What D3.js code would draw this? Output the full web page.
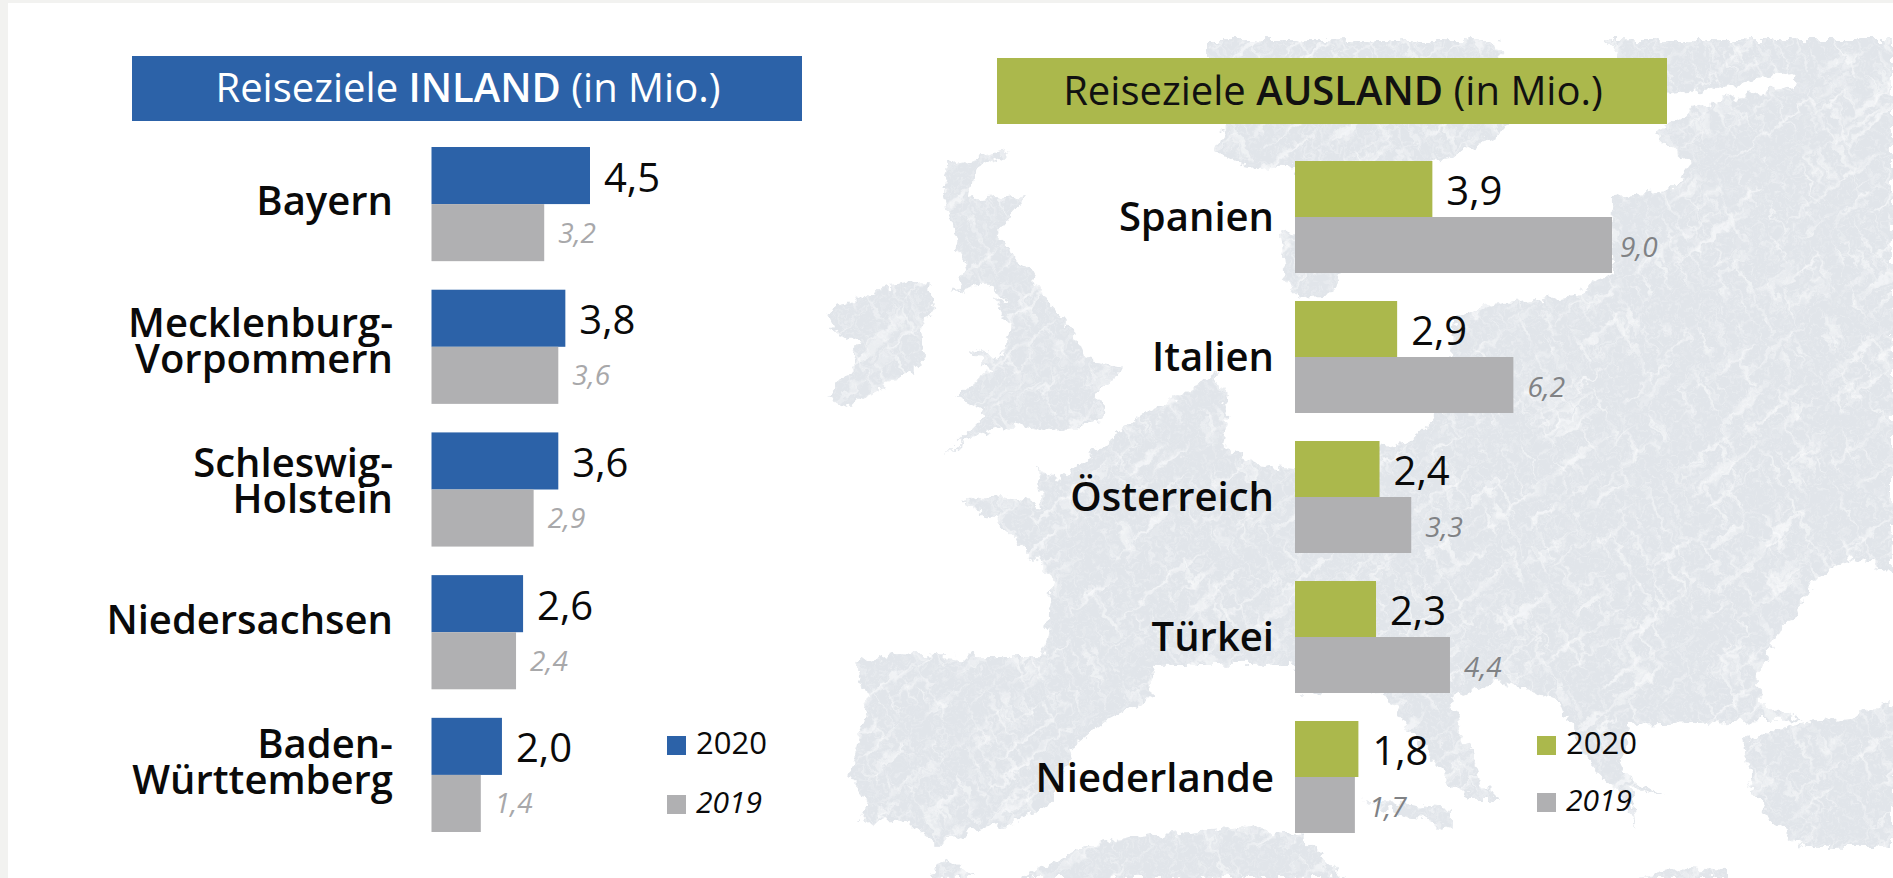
<!DOCTYPE html>
<html lang="de">
<head>
<meta charset="utf-8">
<title>Reiseziele Inland und Ausland</title>
<script src="https://d3js.org/d3.v7.min.js"></script>
<style>
html,body{margin:0;padding:0;background:#f2f2f0;overflow:hidden}
svg{display:block}
text{font-family:"Open Sans",sans-serif;font-kerning:normal}
</style>
</head>
<body>
<svg id="chart" width="1893" height="878"></svg>
<script>
// ---------- data ----------
const years = ["2020", "2019"];
const inlandCategories = ["Bayern", "Mecklenburg-\nVorpommern", "Schleswig-\nHolstein", "Niedersachsen", "Baden-\nWürttemberg"];
const inland2020 = [4.5, 3.8, 3.6, 2.6, 2.0];
const inland2019 = [3.2, 3.6, 2.9, 2.4, 1.4];
const auslandCategories = ["Spanien", "Italien", "Österreich", "Türkei", "Niederlande"];
const ausland2020 = [3.9, 2.9, 2.4, 2.3, 1.8];
const ausland2019 = [9.0, 6.2, 3.3, 4.4, 1.7];

// ---------- decorative map outline (page pixels) ----------
const mapLand = [
  [[827,313],[877,290],[923,283],[938,303],[920,330],[925,363],[883,387],[847,405],[828,397],[850,370],[857,343],[837,337]],
  [[950,163],[1010,150],[973,173],[970,200],[1030,193],[997,233],[1013,257],[1033,273],[1050,303],[1073,330],[1087,360],[1123,367],[1097,393],[1107,420],[1050,430],[1017,423],[960,443],[943,458],[987,413],[957,397],[990,370],[970,348],[1000,357],[1010,323],[993,300],[1007,297],[983,283],[953,293],[967,270],[953,230],[943,193]],
  [[1207,40],[1497,40],[1510,128],[1450,160],[1400,165],[1340,165],[1310,200],[1295,165],[1250,170],[1217,150],[1230,110],[1207,60]],
  [[1280,233],[1300,230],[1340,270],[1333,295],[1300,298],[1285,280]],
  [[960,500],[1000,495],[1040,505],[1037,470],[1060,478],[1105,445],[1127,427],[1150,410],[1180,397],[1217,373],[1228,410],[1222,447],[1260,465],[1300,470],[1410,440],[1450,405],[1452,322],[1483,307],[1573,295],[1612,273],[1613,195],[1672,190],[1690,165],[1655,135],[1665,125],[1700,105],[1800,85],[1793,72],[1690,92],[1660,95],[1620,58],[1607,40],[1893,40],[1893,573],[1850,557],[1817,577],[1783,627],[1757,673],[1760,703],[1803,720],[1733,722],[1627,725],[1622,770],[1663,800],[1630,785],[1637,827],[1620,795],[1593,767],[1575,740],[1560,700],[1500,680],[1450,700],[1480,780],[1500,800],[1470,800],[1440,770],[1410,730],[1380,690],[1300,693],[1290,665],[1150,665],[1153,697],[1103,723],[1073,747],[1053,800],[1023,820],[977,830],[937,845],[907,820],[860,823],[867,800],[850,777],[867,707],[857,663],[897,653],[977,657],[1043,657],[1050,613],[1053,580],[1027,550],[997,523]],
  [[1365,800],[1450,808],[1450,827],[1400,815]],
  [[1893,700],[1850,717],[1800,723],[1743,740],[1750,783],[1770,820],[1803,847],[1893,847]],
  [[1020,878],[1090,845],[1160,835],[1240,827],[1300,835],[1345,878]],
  [[930,878],[945,855],[975,878]],
  [[1635,878],[1680,868],[1725,872],[1725,878]]
];

// ---------- palette ----------
const colBlue = "#2c62a8", colGreen = "#abb84c", colGrey = "#b0b0b2";

const svg = d3.select("#chart");
const defs = svg.append("defs");
const line = d3.line().curve(d3.curveLinearClosed);

// rough, scratchy coast
const rough = defs.append("filter").attr("id","rough").attr("filterUnits","userSpaceOnUse")
  .attr("x",0).attr("y",0).attr("width",1893).attr("height",878);
rough.append("feTurbulence").attr("type","fractalNoise").attr("baseFrequency","0.09 0.09")
  .attr("numOctaves",3).attr("seed",4).attr("result","n");
rough.append("feDisplacementMap").attr("in","SourceGraphic").attr("in2","n")
  .attr("scale",16).attr("xChannelSelector","R").attr("yChannelSelector","G");
rough.append("feGaussianBlur").attr("stdDeviation",0.7);

// white streak layers
function streakFilter(id, freq, seed, slope, cut, maxA){
  const fl = defs.append("filter").attr("id",id).attr("filterUnits","userSpaceOnUse")
    .attr("x",-1000).attr("y",-1000).attr("width",4000).attr("height",4000);
  fl.append("feTurbulence").attr("type","fractalNoise").attr("baseFrequency",freq)
    .attr("numOctaves",3).attr("seed",seed);
  fl.append("feColorMatrix").attr("type","matrix")
    .attr("values",`0 0 0 0 1  0 0 0 0 1  0 0 0 0 1  ${slope} 0 0 0 ${cut}`);
  fl.append("feComponentTransfer").append("feFuncA").attr("type","linear").attr("slope",maxA);
}
streakFilter("st1","0.012 0.11",11,5,-2.9,0.55);
streakFilter("st2","0.02 0.16",23,5,-2.9,0.45);
streakFilter("st3","0.25 0.25",7,3,-1.5,0.3);

defs.append("clipPath").attr("id","landClip").selectAll("path").data(mapLand).join("path").attr("d",d=>line(d));

// page sheet
svg.append("rect").attr("x",8).attr("y",3).attr("width",1885).attr("height",875).attr("fill","#fff");

// map
const mapOuter = svg.append("g").attr("filter","url(#rough)");
const mapClip = mapOuter.append("g").attr("clip-path","url(#landClip)");
mapClip.append("rect").attr("x",800).attr("y",30).attr("width",1093).attr("height",848).attr("fill","#e1e5ea");
const layerSpec = [["st1",-38],["st2",62],["st3",0]];
layerSpec.forEach(([id,ang])=>{
  mapClip.append("rect").attr("x",-500).attr("y",-500).attr("width",3400).attr("height",2400)
    .attr("transform",`rotate(${ang} 1350 450)`).attr("filter",`url(#${id})`).attr("fill","#fff");
});

// ---------- shared scale ----------
const x = d3.scaleLinear().domain([0, 9]).range([0, 317]);

function panel(cfg){
  const rows = cfg.cats.map((c,i)=>({cat:c, v2020:cfg.a[i], v2019:cfg.b[i], i}));
  const y = d3.scaleBand().domain(rows.map(r=>r.i)).range(cfg.yRange).paddingInner(cfg.pad).paddingOuter(0);
  const yInner = d3.scaleBand().domain(years).range([0,y.bandwidth()]);
  const fmt = v => d3.format(".1f")(v).replace(".",",");

  // header
  const g = svg.append("g");
  g.append("rect").attr("x",cfg.hx).attr("y",cfg.hy).attr("width",cfg.hw).attr("height",cfg.hh).attr("fill",cfg.color);
  const ht = g.append("text").attr("x",cfg.hx+cfg.hw/2+cfg.htdx).attr("y",cfg.hbase).attr("text-anchor","middle")
    .attr("font-size",cfg.hsize).attr("fill",cfg.hcolor);
  ht.append("tspan").text("Reiseziele ");
  ht.append("tspan").attr("font-weight",600).text(cfg.hword);
  ht.append("tspan").text(" (in Mio.)");

  const rowG = g.selectAll("g.row").data(rows).join("g").attr("class","row")
    .attr("transform",r=>`translate(${cfg.x0},${y(r.i)})`);

  rowG.append("rect").attr("x",0).attr("y",yInner("2020")).attr("height",yInner.bandwidth())
    .attr("width",r=>x(r.v2020)).attr("fill",cfg.color);
  rowG.append("rect").attr("x",0).attr("y",yInner("2019")).attr("height",yInner.bandwidth())
    .attr("width",r=>x(r.v2019)).attr("fill",colGrey);

  rowG.append("text").attr("x",r=>x(r.v2020)+14).attr("y",yInner("2020")+yInner.bandwidth()/2+16)
    .attr("font-size",40).attr("fill","#0a0a0a").text(r=>fmt(r.v2020));
  rowG.append("text").attr("x",r=>x(r.v2019)+cfg.gaps[r.i]).attr("y",yInner("2019")+yInner.bandwidth()/2+cfg.smallDy)
    .attr("font-size",28).attr("font-style","italic").attr("fill",cfg.smallColor).text(r=>fmt(r.v2019));

  const lab = rowG.append("text").attr("text-anchor","end").attr("font-weight",600)
    .attr("font-size",40).attr("fill","#0a0a0a")
    .attr("transform",r=>`translate(${cfg.labelX-cfg.x0},${y.bandwidth()/2})`);
  lab.each(function(r){
    const parts = r.cat.split("\n");
    const t = d3.select(this);
    parts.forEach((p,k)=>{
      t.append("tspan").attr("x",0).attr("y",cfg.labelDy[r.i]+k*36).text(p);
    });
  });

  // legend
  const leg = svg.append("g");
  years.forEach((yr,k)=>{
    leg.append("rect").attr("x",cfg.legX).attr("y",cfg.legY[k]).attr("width",19).attr("height",19)
      .attr("fill",k===0?cfg.color:colGrey);
    leg.append("text").attr("x",cfg.legX+cfg.legGap).attr("y",cfg.legY[k]+18).attr("font-size",k===0?31:30)
      .attr("font-style",k===0?"normal":"italic").attr("fill","#0a0a0a").text(yr);
  });
}

panel({cats:inlandCategories,a:inland2020,b:inland2019,color:colBlue,x0:431.5,labelX:393,yRange:[147,832],pad:0.2,
  hx:132,hy:56,hw:670,hh:65,hbase:102,hsize:40,hword:"INLAND",hcolor:"#fff",htdx:1,
  labelDy:[11,-10,-13,2,-17],gaps:[14,14,14,14,14],smallDy:10,smallColor:"#a8a8aa",
  legX:667,legY:[736,795],legGap:29});
panel({cats:auslandCategories,a:ausland2020,b:ausland2019,color:colGreen,x0:1295,labelX:1274,yRange:[161,833],pad:0.2,
  hx:997,hy:58,hw:670,hh:66,hbase:105,hsize:40,hword:"AUSLAND",hcolor:"#111",htdx:1,
  labelDy:[14,14,14,14,15],gaps:[8,14,14,14,14],smallDy:12,smallColor:"#808285",
  legX:1537,legY:[736,793],legGap:29});
</script>
</body>
</html>
